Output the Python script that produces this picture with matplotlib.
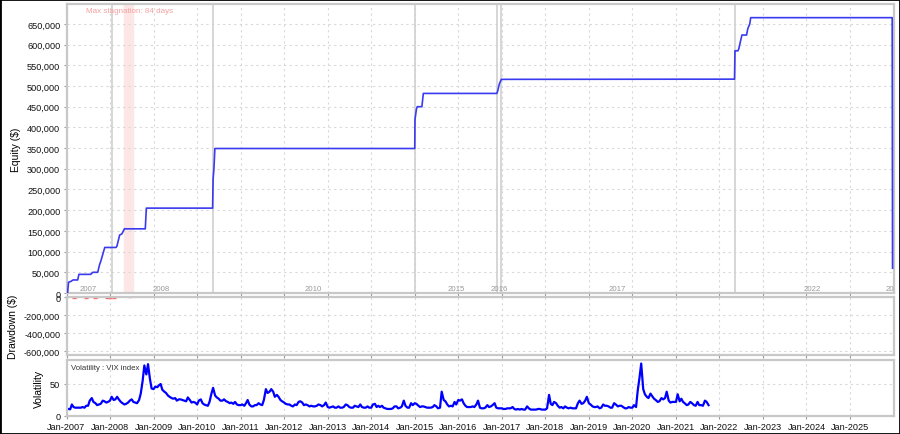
import matplotlib
matplotlib.use('Agg')
import matplotlib.pyplot as plt
import matplotlib.dates as mdates
from matplotlib.patches import Rectangle
from matplotlib.ticker import FuncFormatter
import pandas as pd

plt.rcParams['font.family'] = ['Liberation Sans', 'DejaVu Sans']

# equity curve (step points)
eq_dates = ['2007-01-10', '2007-01-18', '2007-02-07', '2007-02-25', '2007-04-05', '2007-04-15',
            '2007-07-23', '2007-08-10', '2007-09-20', '2007-10-05', '2007-10-16', '2007-11-03',
            '2007-11-18', '2008-02-20', '2008-02-28', '2008-03-22', '2008-04-10', '2008-05-01',
            '2008-10-23', '2008-11-01', '2010-05-11', '2010-05-15', '2010-05-22', '2010-05-30',
            '2015-01-01', '2015-01-03', '2015-01-15', '2015-01-22', '2015-03-02', '2015-03-14',
            '2016-11-20', '2016-11-27', '2016-12-10', '2016-12-27', '2022-05-07', '2022-05-11',
            '2022-06-05', '2022-06-12', '2022-07-08', '2022-08-16', '2022-08-26', '2022-09-12',
            '2022-09-20', '2025-12-20', '2025-12-23']
eq_values = [0, 26000, 28000, 31500, 31500, 45000,
             45000, 50000, 50000, 68000, 77000, 95000,
             110000, 110000, 113000, 140000, 143000, 155000,
             155000, 205000, 205000, 275000, 300000, 349000,
             349000, 419000, 444000, 450000, 450000, 482000,
             482000, 488000, 504000, 516000, 516500, 585000,
             585000, 590000, 623000, 623000, 638000, 650000,
             665000, 665000, 60000]

# small drawdowns
dd_dates = ['2007-03-01', '2007-03-20', '2007-06-10', '2007-06-25', '2007-09-01', '2007-09-15',
            '2007-12-10', '2008-01-05', '2008-02-01', '2008-06-15']
dd_values = [-3000, -2000, -4000, -2500, -3000, -2000, -5000, -4000, -3000, -2500]

# year separators / labels in the equity panel
sep_dates = ['2008-01-15', '2010-05-11', '2015-01-01', '2016-11-17', '2016-12-23', '2022-05-09']
year_labels = ['2007', '2008', '2010', '2015', '2016', '2017', '2022', '2025']
year_label_pos = ['2007-07-05', '2009-03-10', '2012-09-05', '2015-12-15', '2016-12-10',
                  '2019-08-28', '2024-02-20', '2026-01-10']
stagnation = ('2008-05-01', '2008-07-16')

# VIX, two readings per month from Jan-2007 to Oct-2021
vix = [
    11, 11, 10.5, 18, 14, 13, 13, 13, 13, 14, 13, 16, 16, 24, 28, 22, 20, 17, 18, 19, 24, 23, 21, 22,
    24, 30, 25, 26, 30, 26, 22, 20, 18, 19, 21, 24, 26, 22, 21, 20, 25, 35, 55, 79, 65, 81, 58, 43,
    42, 46, 45, 48, 50, 41, 38, 36, 32, 30, 28, 27, 28, 24, 26, 26, 25, 24, 23, 29, 25, 21, 22, 21,
    18, 24, 26, 20, 18, 17, 16, 22, 35, 44, 32, 29, 27, 24, 24, 26, 23, 22, 20, 21, 19, 22, 18, 17,
    17, 18, 16, 20, 25, 18, 15, 15, 17, 17, 20, 18, 17, 25, 42, 36, 38, 42, 38, 30, 33, 30, 25, 23,
    21, 19, 18, 18, 16, 15, 18, 17, 22, 23, 21, 17, 18, 17, 15, 16, 15, 15, 16, 18, 17, 15, 17, 21,
    14, 13, 14, 15, 13, 13, 15, 13, 13, 14, 18, 17, 14, 13, 13, 16, 15, 14, 18, 14, 13, 13, 15, 13,
    13, 18, 19, 14, 16, 14, 16, 13, 12, 11, 11, 11, 12, 15, 15, 12, 13, 15, 24, 16, 13, 13, 20, 17,
    20, 19, 16, 14, 15, 15, 14, 13, 13, 13, 14, 17, 15, 12, 13, 38, 25, 23, 18, 15, 16, 15, 22, 18,
    25, 24, 26, 20, 16, 14, 14, 14, 15, 14, 18, 24, 13, 12, 12, 13, 17, 14, 15, 17, 20, 13, 12, 12,
    12, 11, 11, 12, 12, 12, 14, 11, 10, 11, 10, 11, 10, 10, 15, 12, 10, 10, 10, 10, 11, 11, 10, 10,
    10, 12, 33, 19, 17, 22, 20, 16, 13, 14, 12, 15, 13, 12, 13, 12, 12, 12, 20, 24, 19, 20, 24, 30,
    20, 18, 15, 14, 14, 15, 12, 13, 18, 16, 16, 15, 13, 13, 20, 18, 15, 16, 16, 14, 12, 12, 14, 13,
    13, 17, 14, 40, 60, 82, 42, 34, 30, 28, 35, 31, 27, 25, 22, 23, 28, 26, 28, 38, 24, 21, 22, 22,
    22, 34, 23, 27, 22, 20, 17, 18, 22, 20, 17, 16, 22, 17, 17, 16, 24, 22, 17,
]
vix_dates = pd.date_range('2007-01-01', periods=len(vix), freq='SMS')

x0, x1 = pd.Timestamp('2007-01-01'), pd.Timestamp('2025-12-31')
grid_kw = dict(color='#d8d8d8', linestyle=(0, (2, 3)), linewidth=0.8)
spine_col = '#c8c8c8'
tick_fs = 6.6
label_fs = 7.5

fig = plt.figure(figsize=(9, 4.35), dpi=100)
W, H = 900, 435
left, width = 66.5 / W, 827 / W
ax1 = fig.add_axes([left, (H - 294) / H, width, 289 / H])
ax2 = fig.add_axes([left, (H - 356) / H, width, 58 / H])
ax3 = fig.add_axes([left, (H - 417) / H, width, 56 / H])

for ax in (ax1, ax2, ax3):
    ax.set_xlim(x0, x1)
    ax.xaxis.set_major_locator(mdates.YearLocator())
    ax.xaxis.set_major_formatter(mdates.DateFormatter('%b-%Y'))
    ax.grid(True, **grid_kw)
    ax.set_axisbelow(True)
    for s in ax.spines.values():
        s.set_color(spine_col)
        s.set_linewidth(1.6)
    ax.tick_params(labelsize=tick_fs, colors='#111111', length=2.5, color='#999999', pad=2)

thousands = FuncFormatter(lambda v, p: f'{v:,.0f}')

# equity panel
ax1.axvspan(pd.Timestamp(stagnation[0]), pd.Timestamp(stagnation[1]), color='#fde6e6', zorder=0)
for d in sep_dates:
    ax1.axvline(pd.Timestamp(d), color='#d0d0d0', linewidth=1.2, zorder=1)
ax1.plot(pd.to_datetime(eq_dates), eq_values, color='#3a3af0', linewidth=1.2, zorder=3)
for lab, d in zip(year_labels, year_label_pos):
    ax1.text(pd.Timestamp(d), 3000, lab, color='#999999', fontsize=5.6, ha='center',
             va='bottom', clip_on=True)
ax1.text(pd.Timestamp('2007-06-10'), 690000, 'Max stagnation: 84 days', color='#f5a0a0',
         fontsize=5.8, va='top')
ax1.set_ylim(0, 698000)
ax1.set_yticks(range(0, 650001, 50000))
ax1.yaxis.set_major_formatter(thousands)
ax1.set_ylabel('Equity ($)', fontsize=label_fs, labelpad=4)
ax1.tick_params(labelbottom=False)

# drawdown panel
ax2.plot(pd.to_datetime(dd_dates), dd_values, color='#f07070', linestyle='none',
         marker='_', markersize=2.5, markeredgewidth=1)
ax2.set_ylim(-645000, 3000)
ax2.set_yticks([0, -200000, -400000, -600000])
ax2.yaxis.set_major_formatter(thousands)
ax2.set_ylabel('Drawdown ($)', fontsize=label_fs, labelpad=4)
ax2.tick_params(labelbottom=False)

# volatility panel
ax3.plot(vix_dates, vix, color='#0000ff', linewidth=1.6)
ax3.set_ylim(0, 87.5)
ax3.set_yticks([0, 50])
ax3.set_ylabel('Volatility', fontsize=label_fs, labelpad=4)
ax3.text(0.006, 0.93, 'Volatility : VIX index', transform=ax3.transAxes, fontsize=5.6,
         color='#333333', va='top')

fig.patches.append(Rectangle((0, 0), 1, 1, transform=fig.transFigure, fill=False,
                             edgecolor='black', linewidth=2))

fig.savefig('out.png', dpi=100)
